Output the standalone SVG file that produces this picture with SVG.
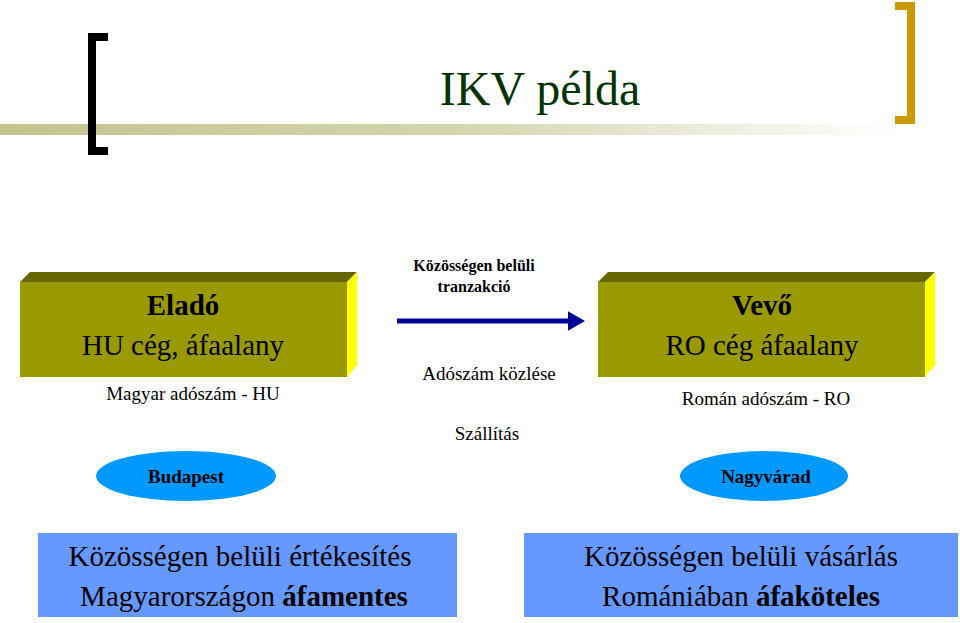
<svg xmlns="http://www.w3.org/2000/svg" width="960" height="623" viewBox="0 0 960 623">
<style>
text{font-family:"Liberation Serif","Times New Roman",serif;text-anchor:middle;fill:#000}
.b{font-weight:bold}
.front{fill:#999900}
.top{fill:#666600}
.side{fill:#ffff00}
.ell{fill:#0099ff}
.blue{fill:#6699ff}
</style>
<defs>
<linearGradient id="bar" x1="0" x2="1" y1="0" y2="0">
<stop offset="0" stop-color="#c4c48e"/>
<stop offset="0.5" stop-color="#d4d4ae"/>
<stop offset="1" stop-color="#ffffff"/>
</linearGradient>
<marker id="ah" markerWidth="4" markerHeight="4" refX="0.5" refY="2" orient="auto" markerUnits="strokeWidth">
<path d="M0,0 L3.5,2 L0,4 Z" fill="#000099"/>
</marker>
</defs>
<rect width="960" height="623" fill="#fff"/>
<g id="header">
<rect x="0" y="124" width="900" height="11" fill="url(#bar)"/>
<path d="M108,37 H92 V151 H108" fill="none" stroke="#000" stroke-width="8"/>
<path d="M895,6 H911 V120 H895" fill="none" stroke="#cc9900" stroke-width="8"/>
<text x="540" y="105" font-size="48" fill="#003300" style="fill:#003300">IKV példa</text>
</g>
<g id="elado">
<polygon class="top" points="20,282 30,272 357,272 347,282"/>
<polygon class="side" points="347,282 357,272 357,365 347,377"/>
<rect class="front" x="20" y="282" width="327" height="95"/>
<text x="183" y="315" font-size="29" class="b">Eladó</text>
<text x="183" y="355" font-size="29">HU cég, áfaalany</text>
<text x="193" y="400" font-size="19">Magyar adószám - HU</text>
</g>
<g id="vevo">
<polygon class="top" points="598,282 608,272 935,272 925,282"/>
<polygon class="side" points="925,282 935,272 935,365 925,377"/>
<rect class="front" x="598" y="282" width="327" height="95"/>
<text x="762" y="315" font-size="29" class="b">Vevő</text>
<text x="762" y="355" font-size="29">RO cég áfaalany</text>
<text x="766" y="405" font-size="19">Román adószám - RO</text>
</g>
<g id="budapest">
<ellipse class="ell" cx="186" cy="476" rx="90" ry="25"/>
<text x="186" y="483" font-size="19" class="b">Budapest</text>
</g>
<g id="nagyvarad">
<ellipse class="ell" cx="764" cy="476" rx="84" ry="25"/>
<text x="766" y="483" font-size="19" class="b">Nagyvárad</text>
</g>
<g id="connectors">
<line x1="397" y1="321" x2="570" y2="321" stroke="#000099" stroke-width="5" marker-end="url(#ah)"/>
</g>
<g id="labels">
<text x="474" y="271" font-size="16" class="b">Közösségen belüli</text>
<text x="474" y="292" font-size="16" class="b">tranzakció</text>
<text x="489" y="380" font-size="19">Adószám közlése</text>
<text x="487" y="440" font-size="19">Szállítás</text>
</g>
<g id="left-result">
<rect class="blue" x="38" y="533" width="419" height="84"/>
<text x="240" y="566" font-size="29">Közösségen belüli értékesítés</text>
<text x="244" y="606" font-size="29">Magyarországon <tspan class="b">áfamentes</tspan></text>
</g>
<g id="right-result">
<rect class="blue" x="524" y="533" width="434" height="84"/>
<text x="741" y="566" font-size="29">Közösségen belüli vásárlás</text>
<text x="741" y="606" font-size="29">Romániában <tspan class="b">áfaköteles</tspan></text>
</g>
</svg>
